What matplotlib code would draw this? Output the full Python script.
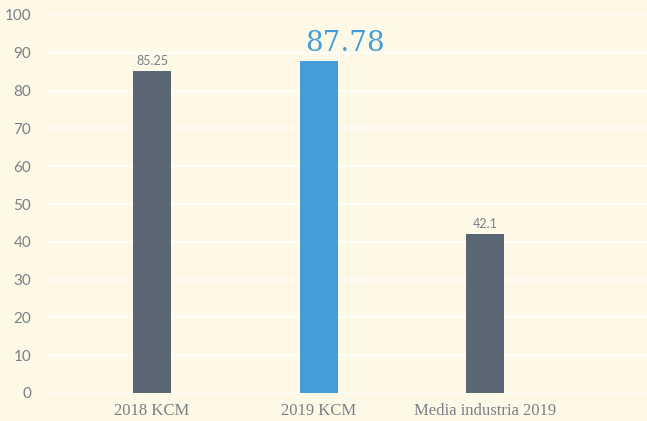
import matplotlib
matplotlib.use("Agg")
import matplotlib.pyplot as plt

categories = ["2018 KCM", "2019 KCM", "Media industria 2019"]
values = [85.25, 87.78, 42.1]
value_labels = ["85.25", "87.78", "42.1"]
highlight = [False, True, False]
yticks = [0, 10, 20, 30, 40, 50, 60, 70, 80, 90, 100]

W, H = 647, 421
bg = "#fef9e7"
dark = "#5a6673"
blue = "#449dd7"
txt = "#7b8087"
bar_w = 0.228

fig = plt.figure(figsize=(W / 100, H / 100), dpi=100)
fig.patch.set_facecolor(bg)
ax = fig.add_axes([45 / W, 28 / H, (W - 45) / W, (393 - 15) / H])
ax.set_facecolor(bg)

x = list(range(len(categories)))
colors = [blue if h else dark for h in highlight]
ax.bar(x, values, width=bar_w, color=colors, zorder=3)

for xi, v, lab, h in zip(x, values, value_labels, highlight):
    if h:
        ax.annotate(lab, (xi - bar_w / 2, v), xytext=(4, 3), textcoords="offset points",
                    ha="left", va="bottom", fontsize=20, color=blue,
                    family="DejaVu Serif")
    else:
        ax.annotate(lab, (xi, v), xytext=(0, 3), textcoords="offset points",
                    ha="center", va="bottom", fontsize=9, color=txt,
                    family="Lato")

ax.set_ylim(0, 100)
ax.set_xlim(-0.643, 2.973)
ax.set_yticks(yticks)
ax.set_yticklabels([str(t) for t in yticks], fontsize=11, color=txt, family="Lato")
ax.set_xticks(x)
ax.set_xticklabels(categories, fontsize=12, color=txt, family="Liberation Serif")
ax.tick_params(axis="both", length=0)
ax.tick_params(axis="y", pad=10)
ax.tick_params(axis="x", pad=7)
ax.grid(axis="y", color="white", linewidth=1.2, zorder=0)
for s in ax.spines.values():
    s.set_visible(False)

fig.savefig("out.png", dpi=100, facecolor=bg)
